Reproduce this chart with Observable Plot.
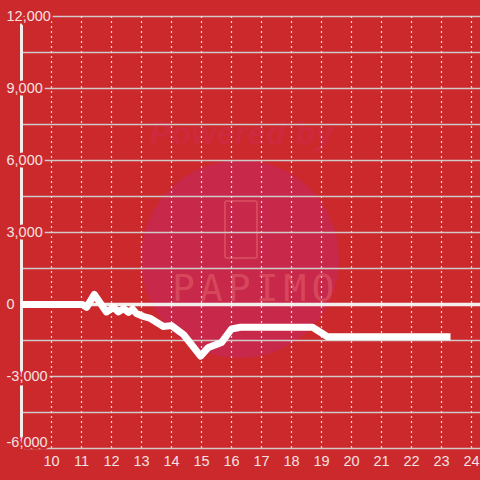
<!DOCTYPE html>
<html>
<head>
<meta charset="utf-8">
<script src="https://cdn.jsdelivr.net/npm/d3@7"></script>
<script src="https://cdn.jsdelivr.net/npm/@observablehq/plot@0.6"></script>
<style>
  html, body { margin: 0; padding: 0; background: #cc292d; }
  #wrap { position: relative; width: 480px; height: 480px; overflow: hidden; font-family: "Liberation Sans", Arial, sans-serif; }
  #circle { position: absolute; left: 141px; top: 160px; width: 198px; height: 198px; border-radius: 50%; background: #c8284a; }
  #powered { position: absolute; left: 150px; top: 116px; font-size: 31px; font-weight: bold; font-style: italic; color: #cd2a3d; letter-spacing: 1px; }
  #icon { position: absolute; left: 224px; top: 200px; width: 30px; height: 55px; border: 2px solid #d6475c; border-radius: 3px; }
  #brand { position: absolute; left: 172px; top: 266px; font-size: 38px; color: #d6475c; letter-spacing: 5px; font-family: "DejaVu Sans Mono", monospace; }
  #chart { position: absolute; left: 0; top: 0; }
</style>
</head>
<body>
<div id="wrap">
  <div id="circle"></div>
  <div id="powered">Powered by</div>
  <div id="icon"></div>
  <div id="brand">PAPIMO</div>
  <div id="chart"></div>
</div>
<script>
const hours = [9.0, 11.03, 11.17, 11.43, 11.83, 12.07, 12.23, 12.4, 12.57, 12.7, 12.83, 13.07, 13.3, 13.73, 14.0, 14.4, 14.97, 15.23, 15.67, 16.0, 16.3, 18.7, 19.2, 23.3];
const values = [0, 0, -120, 420, -310, -120, -310, -170, -330, -190, -375, -500, -580, -920, -880, -1250, -2150, -1790, -1580, -1020, -950, -950, -1340, -1340];
const yTicks = [12000, 9000, 6000, 3000, 0, -3000, -6000];
const yGrid = [12000, 10500, 9000, 7500, 6000, 4500, 3000, 1500, 0, -1500, -3000, -4500, -6000];
const xTicks = [10, 11, 12, 13, 14, 15, 16, 17, 18, 19, 20, 21, 22, 23, 24];

const data = hours.map((h, i) => ({h, v: values[i]}));
const fmt = d => d.toLocaleString("en-US");
const bg = "#cc292d";
const txt = "#f3e1e1";

const chart = Plot.plot({
  width: 480,
  height: 480,
  marginLeft: 21,
  marginRight: 0,
  marginTop: 16,
  marginBottom: 32,
  style: {background: "transparent", overflow: "visible"},
  x: {domain: [9, 24.3], axis: null},
  y: {domain: [-6000, 12000], axis: null},
  marks: [
    Plot.ruleY(yGrid, {stroke: "#cfcaca", strokeWidth: 1.4}),
    Plot.ruleX(xTicks, {y1: -6000, y2: 12000, stroke: "#e8e0e0", strokeWidth: 1.2, strokeDasharray: "2,3"}),
    Plot.ruleX([9], {y1: -6000, y2: 12000, stroke: "#f2eeee", strokeWidth: 3}),
    Plot.ruleY([0], {stroke: "#f2eeee", strokeWidth: 3.4}),
    Plot.line(data, {x: "h", y: "v", stroke: "white", strokeWidth: 7, strokeLinejoin: "round", strokeLinecap: "butt"}),
    Plot.text(yTicks.filter(d => d > -6000), {x: 9, y: d => d, text: fmt, textAnchor: "start", dx: -15, fill: txt, stroke: bg, strokeWidth: 5, fontSize: 14.5, fontFamily: "Liberation Sans, Arial, sans-serif"}),
    Plot.text(yTicks.filter(d => d === -6000), {x: 9, y: d => d, text: fmt, textAnchor: "start", dx: -15, dy: -6, fill: txt, stroke: bg, strokeWidth: 5, fontSize: 14.5, fontFamily: "Liberation Sans, Arial, sans-serif"}),
    Plot.text(xTicks, {x: d => d, y: -6000, text: d => String(d), dy: 13, fill: txt, fontSize: 14.5, fontFamily: "Liberation Sans, Arial, sans-serif"})
  ]
});
document.getElementById("chart").appendChild(chart);
</script>
</body>
</html>
